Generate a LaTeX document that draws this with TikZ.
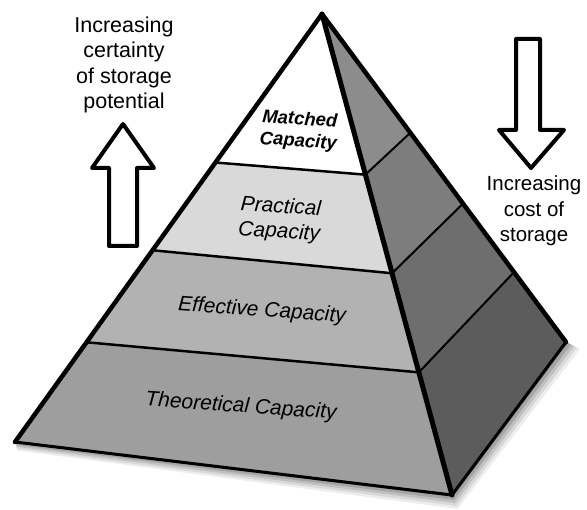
\documentclass[tikz,border=0pt]{standalone}
\usepackage{fontspec}
\setmainfont{Liberation Sans}
\usetikzlibrary{calc}
\definecolor{practicalgray}{gray}{0.85}
\definecolor{effectivegray}{gray}{0.70}
\definecolor{theorygray}{gray}{0.62}
\definecolor{sideA}{gray}{0.55}
\definecolor{sideB}{gray}{0.49}
\definecolor{sideC}{gray}{0.43}
\definecolor{sideD}{gray}{0.36}
\begin{document}
\begin{tikzpicture}[x=1pt, y=-1pt, line join=round, line cap=round,
	edge/.style={line width=4.5pt},
	band/.style={line width=2.5pt},
	sidetext/.style={align=center, font=\fontsize{20.5}{25.5}\selectfont},
	layertext/.style={align=center, rotate=-4, font=\itshape\fontsize{21}{25}\selectfont},
	blockarrow/.style={draw, line width=4pt, fill=white}]
	\useasboundingbox (0,0) rectangle (587,510);
	% corners of the pyramid
	\coordinate (apex) at (322,14);
	\coordinate (bl) at (15,442);
	\coordinate (br) at (452,495);
	\coordinate (bk) at (566,342);
	% layer points on the three edges
	\coordinate (l1) at ($(apex)!0.347!(bl)$);
	\coordinate (l2) at ($(apex)!0.552!(bl)$);
	\coordinate (l3) at ($(apex)!0.767!(bl)$);
	\coordinate (r1) at ($(apex)!0.334!(br)$);
	\coordinate (r2) at ($(apex)!0.539!(br)$);
	\coordinate (r3) at ($(apex)!0.745!(br)$);
	\coordinate (k1) at ($(apex)!0.362!(bk)$);
	\coordinate (k2) at ($(apex)!0.578!(bk)$);
	\coordinate (k3) at ($(apex)!0.787!(bk)$);
	% soft shadow
	\foreach \d/\o in {14/0.07, 11/0.09, 8/0.11, 5/0.14, 2/0.20}
		\fill[black, opacity=\o] ($(bl)+(2,\d*0.6)$) -- ($(br)+(\d*0.4,\d)$) -- ($(bk)+(\d,\d*0.5)$) -- (bk) -- (br) -- (bl) -- cycle;
	% front face
	\fill[white] (apex) -- (l1) -- (r1) -- cycle;
	\fill[practicalgray] (l1) -- (l2) -- (r2) -- (r1) -- cycle;
	\fill[effectivegray] (l2) -- (l3) -- (r3) -- (r2) -- cycle;
	\fill[theorygray] (l3) -- (bl) -- (br) -- (r3) -- cycle;
	% right face
	\fill[sideA] (apex) -- (r1) -- (k1) -- cycle;
	\fill[sideB] (r1) -- (r2) -- (k2) -- (k1) -- cycle;
	\fill[sideC] (r2) -- (r3) -- (k3) -- (k2) -- cycle;
	\fill[sideD] (r3) -- (br) -- (bk) -- (k3) -- cycle;
	% lines
	\draw[band] (l1) -- (r1) (l2) -- (r2) (l3) -- (r3);
	\draw[line width=2pt] (r1) -- (k1) (r2) -- (k2) (r3) -- (k3);
	\draw[line width=3pt] (bl) -- (br) -- (bk);
	\draw[edge] (bl) -- (apex) -- (bk);
	\draw[line width=5pt] (apex) -- (br);
	% layer names
	\node[layertext, font=\bfseries\itshape\fontsize{18.5}{22}\selectfont] (matched) at (299,131) {Matched\\Capacity};
	\node[layertext] (practical) at (280,220) {Practical\\Capacity};
	\node[layertext] (effective) at (262,311) {Effective Capacity};
	\node[layertext] (theoretical) at (241,407) {Theoretical Capacity};
	% arrows and their texts
	\node[sidetext, font=\fontsize{21.5}{25.5}\selectfont] (certainty) at (124,65) {Increasing\\certainty\\of storage\\potential};
	\draw[blockarrow] (123,124) -- (154,168) -- (137,168) -- (137,246) -- (109,246) -- (109,168) -- (92,168) -- cycle;
	\draw[blockarrow] (516,39) -- (540,39) -- (540,130) -- (564,130) -- (531,168) -- (499,130) -- (516,130) -- cycle;
	\node[sidetext] (cost) at (534,211) {Increasing\\cost of\\storage};
\end{tikzpicture}
\end{document}
